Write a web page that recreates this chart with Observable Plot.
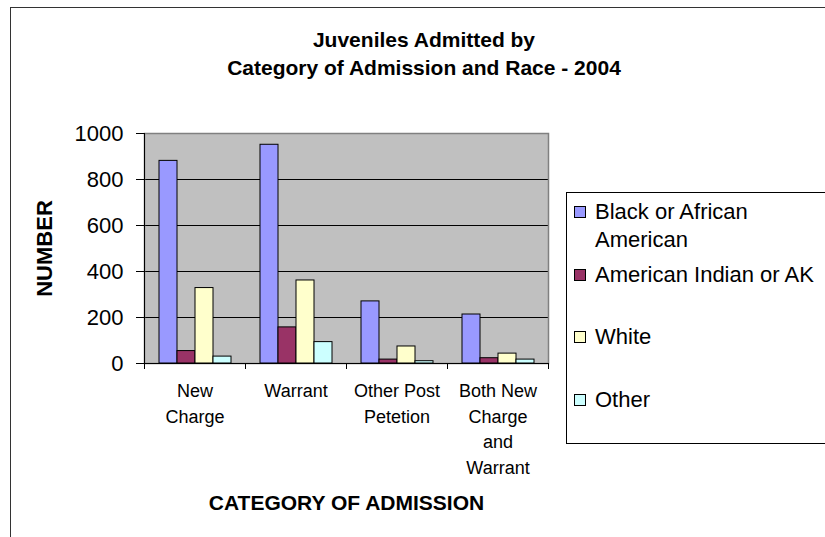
<!DOCTYPE html>
<html>
<head>
<meta charset="utf-8">
<script src="https://cdn.jsdelivr.net/npm/d3@7"></script>
<script src="https://cdn.jsdelivr.net/npm/@observablehq/plot@0.6"></script>
<style>
  html, body { margin: 0; padding: 0; background: #fff; overflow: hidden; }
  #wrap { position: relative; width: 825px; height: 537px; font-family: "Liberation Sans", Arial, sans-serif; color: #000; }
  #outer { position: absolute; left: 10px; top: 7px; width: 900px; height: 700px; border: 1px solid #333; box-sizing: border-box; }
  #chart { position: absolute; left: 0; top: 0; }
  #title { position: absolute; left: 224px; top: 26px; width: 400px; text-align: center; font-weight: bold; font-size: 21px; line-height: 28px; }
  #legend { position: absolute; left: 566px; top: 192px; width: 320px; height: 252px; border: 1px solid #000; box-sizing: border-box; padding-top: 5px; }
  .item { display: flex; align-items: flex-start; height: 62.5px; }
  .sw { width: 12px; height: 12px; border: 1px solid #000; box-sizing: border-box; margin-left: 7px; margin-top: 8px; flex: none; }
  .lab { margin-left: 9px; width: 232px; font-size: 22px; line-height: 28px; }
  g[aria-label="y-axis label"] text, g[aria-label="y-axis label"] { font-size: 22px; font-weight: bold; }
  g[aria-label="fx-axis label"] text, g[aria-label="fx-axis label"] { font-size: 21px; font-weight: bold; }
</style>
</head>
<body>
<div id="wrap">
  <div id="outer"></div>
  <div id="chart"></div>
  <div id="title">Juveniles Admitted by<br>Category of Admission and Race - 2004</div>
  <div id="legend"></div>
</div>
<script>
// ---- data ----
const categories = ["New Charge", "Warrant", "Other Post Petetion", "Both New Charge and Warrant"];
const categoryTickLabels = ["New\nCharge", "Warrant", "Other Post\nPetetion", "Both New\nCharge\nand\nWarrant"];
const races = ["Black or African American", "American Indian or AK", "White", "Other"];
const blackOrAfricanAmerican = [881, 951, 270, 213];
const americanIndianOrAK = [54, 157, 17, 23];
const white = [328, 361, 74, 43];
const other = [30, 93, 10, 17];
const yTicks = [0, 200, 400, 600, 800, 1000];
const raceColors = ["#9999FF", "#993366", "#FFFFCC", "#CCFFFF"];

const series = [blackOrAfricanAmerican, americanIndianOrAK, white, other];
const rows = categories.flatMap((c, i) => races.map((r, j) => ({category: c, race: r, value: series[j][i]})));
const gridValues = yTicks.filter(v => v > 0 && v < 1000);

const chart = Plot.plot({
  width: 825,
  height: 537,
  marginLeft: 143,
  marginRight: 276,
  marginTop: 133,
  marginBottom: 174,
  style: {fontFamily: "Liberation Sans, Arial, sans-serif", background: "transparent", color: "#000", overflow: "visible"},
  fx: {domain: categories, padding: 0},
  x: {domain: races, paddingInner: 0, paddingOuter: 0.74, axis: null},
  y: {domain: [0, 1000]},
  color: {domain: races, range: raceColors},
  marks: [
    Plot.frame({facet: "super", fill: "#C0C0C0", stroke: null}),
    Plot.ruleY(gridValues, {stroke: "#000", strokeWidth: 1}),
    Plot.frame({facet: "super", stroke: "#808080", strokeWidth: 1.5}),
    Plot.barY(rows, {fx: "category", x: "race", y: "value", fill: "race", stroke: "#000", strokeWidth: 1}),
    Plot.ruleY([0], {stroke: "#000", strokeWidth: 1}),
    Plot.frame({facet: "super", anchor: "left", stroke: "#000", insetBottom: -5}),
    Plot.frame({anchor: "left", stroke: "#000", insetTop: 230, insetBottom: -5}),
    Plot.frame({anchor: "right", stroke: "#000", insetTop: 230, insetBottom: -5}),
    Plot.axisY({ticks: yTicks, tickFormat: d => String(d), tickSize: 8, tickPadding: 13, fontSize: 22,
      label: "NUMBER", labelArrow: "none", labelAnchor: "center", labelOffset: 108}),
    Plot.axisFx({anchor: "bottom", tickSize: 0, tickPadding: 15, fontSize: 18, lineHeight: 1.43,
      tickFormat: d => categoryTickLabels[categories.indexOf(d)],
      label: "CATEGORY OF ADMISSION", labelArrow: "none", labelAnchor: "center", labelOffset: 146})
  ]
});
document.getElementById("chart").appendChild(chart);

// legend
const legend = document.getElementById("legend");
races.forEach((r, i) => {
  const item = document.createElement("div");
  item.className = "item";
  const sw = document.createElement("div");
  sw.className = "sw";
  sw.style.background = raceColors[i];
  const lab = document.createElement("div");
  lab.className = "lab";
  lab.textContent = r;
  item.appendChild(sw);
  item.appendChild(lab);
  legend.appendChild(item);
});
</script>
</body>
</html>
